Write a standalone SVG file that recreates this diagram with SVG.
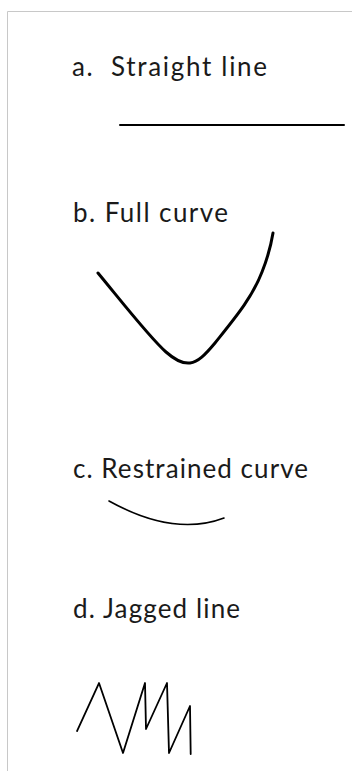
<svg xmlns="http://www.w3.org/2000/svg" width="352" height="771" viewBox="0 0 352 771">
  <style>
    .lbl { font-family: Lato, "Open Sans", "Liberation Sans", sans-serif; font-size: 26px; fill: #1a1a1a; }
    .ink { fill: none; stroke: #000; stroke-linecap: round; stroke-linejoin: round; }
    .frame { fill: none; stroke: #c8c8c8; stroke-width: 1; }
  </style>
  <rect width="352" height="771" fill="#fff"/>
  <path class="frame" d="M7.5,771 V11.5 H352"/>
  <g id="a-straight">
    <text class="lbl" x="72" y="76" xml:space="preserve" textLength="195">a.  Straight line</text>
    <line class="ink" x1="120" y1="125" x2="344" y2="125" stroke-width="2" stroke-linecap="butt"/>
  </g>
  <g id="b-full-curve">
    <text class="lbl" x="73" y="222" textLength="155">b. Full curve</text>
    <path class="ink" stroke-width="3" d="M98,273 C122,302 150,338 166,352 C175,360 182,364 190,363 C198,362 205,355 215,343 C235,318 252,298 262,272 C268,257 271,245 273,233"/>
  </g>
  <g id="c-restrained-curve">
    <text class="lbl" x="73" y="478" textLength="235">c. Restrained curve</text>
    <path class="ink" stroke="#222" stroke-width="1.6" d="M109,501 Q174,537 224,518"/>
  </g>
  <g id="d-jagged-line">
    <text class="lbl" x="73" y="618" textLength="167">d. Jagged line</text>
    <polyline class="ink" stroke-width="1.8" points="77,731 99,683 123,753 145,683 146,729 167,683 169,753 190,706 190.7,754"/>
  </g>
</svg>
